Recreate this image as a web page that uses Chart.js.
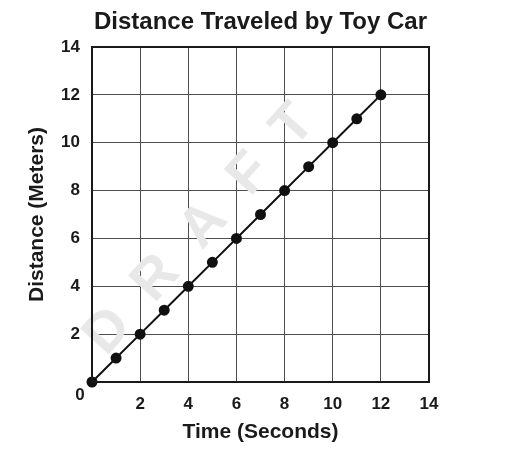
<!DOCTYPE html>
<html lang="en">
<head>
  <meta charset="UTF-8" />
  <title>Distance Traveled by Toy Car</title>
  <script src="https://cdn.jsdelivr.net/npm/chart.js"></script>
  <style>
    body { margin: 0; background: #ffffff; }
    #wrap { width: 511px; height: 462px; }
  </style>
</head>
<body>
  <div id="wrap"><canvas id="grafico"></canvas></div>

  <script>
    // dados
    const tempo = [0, 1, 2, 3, 4, 5, 6, 7, 8, 9, 10, 11, 12];
    const distancia = [0, 1, 2, 3, 4, 5, 6, 7, 8, 9, 10, 11, 12];
    const ticksEixo = [0, 2, 4, 6, 8, 10, 12, 14];

    const titulo = 'Distance Traveled by Toy Car';
    const fonte = 'Liberation Sans, Arial, Helvetica, sans-serif';
    const preto = '#1a1a1a';

    // titulo centrado no grafico, marca d'agua, moldura e o "0" do canto
    const extras = {
      id: 'extras',
      beforeDatasetsDraw(chart) {
        const ctx = chart.ctx;
        ctx.save();
        ctx.translate(200, 230);
        ctx.rotate(-48 * Math.PI / 180);
        ctx.fillStyle = '#e8e8e8';
        ctx.font = 'bold 56px ' + fonte;
        ctx.textAlign = 'center';
        ctx.textBaseline = 'middle';
        ctx.fillText('D  R  A  F  T', 0, 0);
        ctx.restore();
      },
      afterDraw(chart) {
        const ctx = chart.ctx;
        const a = chart.chartArea;
        const x = chart.scales.x, y = chart.scales.y;
        ctx.save();
        ctx.strokeStyle = preto;
        ctx.lineWidth = 2;
        ctx.strokeRect(a.left, a.top, a.right - a.left, a.bottom - a.top);

        ctx.fillStyle = preto;
        ctx.textAlign = 'center';
        ctx.textBaseline = 'middle';
        ctx.font = 'bold 24px ' + fonte;
        ctx.fillText(titulo, (a.left + a.right) / 2, 22);

        ctx.font = 'bold 17px ' + fonte;
        ctx.fillText(String(ticksEixo[0]), x.getPixelForValue(0) - 12, y.getPixelForValue(0) + 13);
        ctx.restore();
      }
    };

    const eixo = (texto) => ({
      type: 'linear',
      min: ticksEixo[0],
      max: ticksEixo[ticksEixo.length - 1],
      afterBuildTicks: (s) => { s.ticks = ticksEixo.map(v => ({ value: v })); },
      grid: { color: '#4d4d4d', lineWidth: 1, drawTicks: false },
      border: { color: preto, width: 2 },
      ticks: {
        color: preto,
        padding: 12,
        font: { family: fonte, size: 17, weight: 'bold' },
        callback: (v) => v === 0 ? '' : String(v)
      },
      title: {
        display: true,
        text: texto,
        color: preto,
        font: { family: fonte, size: 21, weight: 'bold' }
      }
    });

    const xEixo = eixo('Time (Seconds)');
    xEixo.ticks.maxRotation = 0;
    xEixo.title.padding = { top: 0, bottom: 17 };
    xEixo.afterFit = (s) => { s.height = 80; };

    const yEixo = eixo('Distance (Meters)');
    yEixo.title.padding = { top: 25, bottom: 0 };
    yEixo.afterFit = (s) => { s.width = 92; };

    new Chart(document.getElementById('grafico'), {
      type: 'line',
      data: {
        datasets: [{
          data: tempo.map((t, i) => ({ x: t, y: distancia[i] })),
          borderColor: '#111111',
          backgroundColor: '#111111',
          borderWidth: 2,
          pointRadius: 4.5,
          pointHoverRadius: 4.5,
          tension: 0,
          clip: false
        }]
      },
      options: {
        responsive: true,
        maintainAspectRatio: false,
        animation: false,
        layout: { padding: { left: 0, right: 82, top: 47, bottom: 0 } },
        plugins: {
          legend: { display: false },
          tooltip: { enabled: false }
        },
        scales: { x: xEixo, y: yEixo }
      },
      plugins: [extras]
    });
  </script>
</body>
</html>
